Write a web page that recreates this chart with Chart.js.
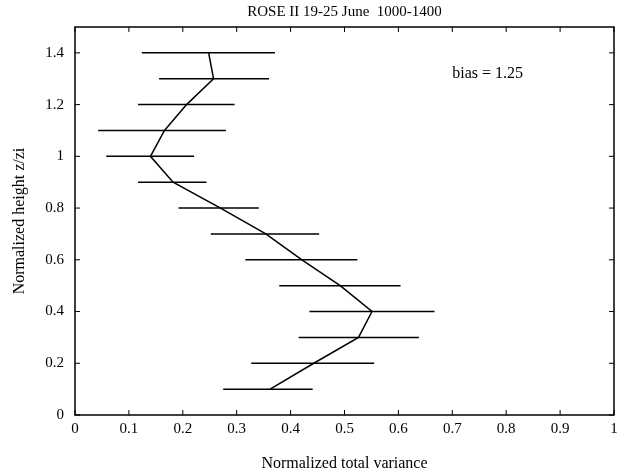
<!DOCTYPE html>
<html>
<head>
<meta charset="utf-8">
<script src="https://cdn.jsdelivr.net/npm/chart.js@4/dist/chart.umd.min.js"></script>
<style>
  html, body { margin: 0; padding: 0; background: #fff; }
  canvas { display: block; }
</style>
</head>
<body>
<canvas id="chartVar" width="624" height="473"></canvas>
<script>
// Datos: altura normalizada z/zi y varianza total normalizada
const heights  = [0.1, 0.2, 0.3, 0.4, 0.5, 0.6, 0.7, 0.8, 0.9, 1.0, 1.1, 1.2, 1.3, 1.4];
const meanVar  = [0.362, 0.443, 0.526, 0.551, 0.492, 0.421, 0.354, 0.270, 0.182, 0.140, 0.166, 0.207, 0.257, 0.248];
const lowVar   = [0.275, 0.327, 0.415, 0.435, 0.379, 0.316, 0.252, 0.192, 0.117, 0.058, 0.043, 0.117, 0.156, 0.124];
const highVar  = [0.441, 0.555, 0.638, 0.667, 0.604, 0.524, 0.453, 0.341, 0.244, 0.221, 0.280, 0.296, 0.360, 0.371];

const titleText = 'ROSE II 19-25 June  1000-1400';
const xTitle = 'Normalized total variance';
const yTitle = 'Normalized height z/zi';
const biasText = 'bias = 1.25';
const biasPos = { x: 0.70, y: 1.32 };

const SERIF = '"Liberation Serif", "Times New Roman", serif';

// Etiquetas estilo MATLAB: "1" en vez de "1.0"
const tickLabel = (v) => String(Math.round(v * 10) / 10);

// Marco con ticks hacia adentro (estilo MATLAB), barras de error y la etiqueta "bias"
const frameAndBars = {
    id: 'frameAndBars',
    afterDatasetsDraw(chart) {
        const { ctx, chartArea: a, scales: { x, y } } = chart;
        const line = (x1, y1, x2, y2) => { ctx.beginPath(); ctx.moveTo(x1, y1); ctx.lineTo(x2, y2); ctx.stroke(); };
        ctx.save();
        ctx.strokeStyle = '#000';

        // barras horizontales de error
        ctx.lineWidth = 1.5;
        heights.forEach((h, i) => {
            const py = y.getPixelForValue(h);
            line(x.getPixelForValue(lowVar[i]), py, x.getPixelForValue(highVar[i]), py);
        });

        // marco
        ctx.lineWidth = 1.5;
        ctx.strokeRect(a.left, a.top, a.right - a.left, a.bottom - a.top);

        // ticks hacia adentro en los cuatro lados
        const len = 5;
        ctx.lineWidth = 1;
        x.ticks.forEach((t) => {
            const px = x.getPixelForValue(t.value);
            line(px, a.bottom, px, a.bottom - len);
            line(px, a.top, px, a.top + len);
        });
        y.ticks.forEach((t) => {
            const py = y.getPixelForValue(t.value);
            line(a.left, py, a.left + len, py);
            line(a.right, py, a.right - len, py);
        });

        // texto "bias = 1.25"
        ctx.fillStyle = '#000';
        ctx.font = '16px ' + SERIF;
        ctx.textAlign = 'left';
        ctx.textBaseline = 'middle';
        ctx.fillText(biasText, x.getPixelForValue(biasPos.x), y.getPixelForValue(biasPos.y));
        ctx.restore();
    }
};

const points = heights.map((h, i) => ({ x: meanVar[i], y: h }));

new Chart(document.getElementById('chartVar'), {
    type: 'scatter',
    data: {
        datasets: [{
            data: points,
            showLine: true,
            borderColor: '#000',
            borderWidth: 1.5,
            pointRadius: 0,
            tension: 0
        }]
    },
    options: {
        responsive: false,
        animation: false,
        devicePixelRatio: 1,
        layout: { padding: { left: 0, right: 10, top: 0, bottom: 0 } },
        plugins: {
            legend: { display: false },
            tooltip: { enabled: false },
            title: {
                display: true,
                fullSize: false,
                text: titleText,
                color: '#000',
                font: { family: SERIF, size: 15, weight: 'normal' },
                padding: { top: 3, bottom: 6 }
            }
        },
        scales: {
            x: {
                type: 'linear',
                min: 0, max: 1,
                afterFit: (s) => { s.height = 58; },
                grid: { display: false },
                border: { display: false },
                ticks: {
                    stepSize: 0.1,
                    color: '#000',
                    padding: -3,
                    maxRotation: 0,
                    font: { family: SERIF, size: 15 },
                    callback: tickLabel
                },
                title: {
                    display: true,
                    text: xTitle,
                    color: '#000',
                    font: { family: SERIF, size: 16 },
                    padding: { top: 3.4, bottom: 0 }
                }
            },
            y: {
                type: 'linear',
                min: 0, max: 1.5,
                afterFit: (s) => { s.width = 75; },
                grid: { display: false },
                border: { display: false },
                ticks: {
                    stepSize: 0.2,
                    includeBounds: false,
                    color: '#000',
                    padding: 3,
                    font: { family: SERIF, size: 15 },
                    callback: tickLabel
                },
                title: {
                    display: true,
                    text: yTitle,
                    color: '#000',
                    font: { family: SERIF, size: 16 },
                    padding: { top: 10.4, bottom: 0 }
                }
            }
        }
    },
    plugins: [frameAndBars]
});
</script>
</body>
</html>
